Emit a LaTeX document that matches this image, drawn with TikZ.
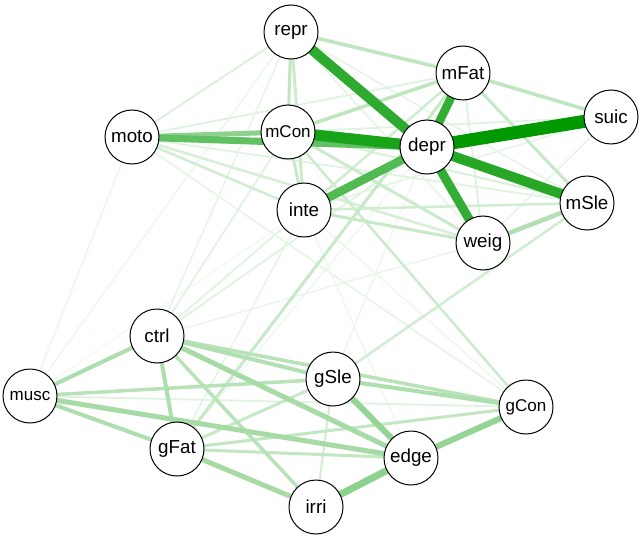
\documentclass[tikz,border=0pt]{standalone}
\usepackage{fontspec}
\setmainfont{Liberation Sans}
\definecolor{gq}{RGB}{0,153,0}
\pgfdeclarelayer{back}
\pgfdeclarelayer{bg}
\pgfsetlayers{back,bg,main}
\newcommand\gqedge[4]{\draw[line width=#3pt,draw=gq!#4!white] (#1.center) -- (#2.center);}
\begin{document}
\begin{tikzpicture}[x=1pt,y=-1pt,
  vnode/.style={circle,draw=black,line width=1pt,fill=white,minimum size=54pt,inner sep=0pt,font=\fontsize{18.8}{19}\selectfont},
  snode/.style={vnode,font=\fontsize{17}{17}\selectfont}]
\begin{pgfonlayer}{back}
\fill[white] (0,0) rectangle (644,540);
\end{pgfonlayer}
\useasboundingbox (0,0) rectangle (644,540);
\node[vnode] (repr) at (291,32) {repr};
\node[vnode] (mFat) at (463,73) {mFat};
\node[vnode] (suic) at (611,117) {suic};
\node[vnode] (moto) at (132,137) {moto};
\node[snode] (mCon) at (288,132) {mCon};
\node[vnode] (depr) at (427,147) {depr};
\node[vnode] (inte) at (304,210) {inte};
\node[vnode] (mSle) at (587,203) {mSle};
\node[vnode] (weig) at (483,243) {weig};
\node[vnode] (ctrl) at (157,336) {ctrl};
\node[snode] (musc) at (30,396) {musc};
\node[vnode] (gSle) at (333,379) {gSle};
\node[snode] (gCon) at (526,407) {gCon};
\node[vnode] (gFat) at (177,449) {gFat};
\node[vnode] (edge) at (411,458) {edge};
\node[vnode] (irri) at (316,507) {irri};
\begin{pgfonlayer}{bg}
\gqedge{musc}{moto}{1.5}{7}
\gqedge{musc}{repr}{1.5}{7}
\gqedge{musc}{inte}{1.2}{6}
\gqedge{ctrl}{repr}{1.5}{10}
\gqedge{ctrl}{mCon}{1.8}{12}
\gqedge{ctrl}{inte}{1.8}{12}
\gqedge{ctrl}{depr}{1.8}{12}
\gqedge{ctrl}{mFat}{1.5}{10}
\gqedge{ctrl}{weig}{1.5}{8}
\gqedge{gCon}{moto}{1.5}{10}
\gqedge{gCon}{inte}{1.2}{8}
\gqedge{gFat}{inte}{1.5}{10}
\gqedge{gFat}{depr}{1.2}{8}
\gqedge{edge}{inte}{1.2}{8}
\gqedge{gSle}{depr}{1.2}{8}
\gqedge{repr}{weig}{1.5}{10}
\gqedge{repr}{mSle}{1.5}{10}
\gqedge{suic}{weig}{1.5}{10}
\gqedge{suic}{inte}{1.5}{10}
\gqedge{suic}{mCon}{1.8}{12}
\gqedge{moto}{mSle}{1.8}{12}
\gqedge{mFat}{weig}{2}{12}
\gqedge{mFat}{moto}{1.8}{12}
\gqedge{musc}{gCon}{1.8}{12}
\gqedge{repr}{moto}{2}{14}
\gqedge{mSle}{mCon}{2}{15}
\gqedge{moto}{weig}{2.5}{16}
\gqedge{gSle}{mSle}{2.5}{18}
\gqedge{irri}{gSle}{2}{18}
\gqedge{gCon}{mCon}{2.5}{20}
\gqedge{mFat}{inte}{2.5}{18}
\gqedge{mSle}{inte}{2.5}{18}
\gqedge{moto}{inte}{2.5}{18}
\gqedge{repr}{inte}{3}{20}
\gqedge{weig}{mCon}{3}{20}
\gqedge{gFat}{mFat}{3}{22}
\gqedge{mFat}{mSle}{3}{22}
\gqedge{weig}{inte}{3}{22}
\gqedge{inte}{mCon}{3}{22}
\gqedge{gFat}{gSle}{3}{22}
\gqedge{gFat}{gCon}{3}{24}
\gqedge{gFat}{edge}{3}{24}
\gqedge{repr}{mCon}{3}{25}
\gqedge{repr}{mFat}{3.5}{25}
\gqedge{mFat}{suic}{3.5}{25}
\gqedge{mFat}{mCon}{3.5}{25}
\gqedge{ctrl}{irri}{3.5}{28}
\gqedge{musc}{gSle}{3.5}{28}
\gqedge{ctrl}{gCon}{3.5}{28}
\gqedge{ctrl}{gSle}{4}{30}
\gqedge{gSle}{gCon}{4}{32}
\gqedge{mSle}{weig}{4.5}{30}
\gqedge{ctrl}{musc}{4}{32}
\gqedge{musc}{gFat}{4}{32}
\gqedge{ctrl}{gFat}{4}{32}
\gqedge{ctrl}{edge}{5}{35}
\gqedge{musc}{edge}{5}{35}
\gqedge{gFat}{irri}{5}{35}
\gqedge{moto}{mCon}{5}{45}
\gqedge{gSle}{edge}{6}{42}
\gqedge{edge}{gCon}{6}{42}
\gqedge{edge}{irri}{7}{45}
\gqedge{moto}{depr}{7}{62}
\gqedge{depr}{inte}{8.5}{68}
\gqedge{depr}{mFat}{8.5}{80}
\gqedge{depr}{weig}{9}{80}
\gqedge{depr}{repr}{10}{82}
\gqedge{depr}{mSle}{10}{85}
\gqedge{depr}{mCon}{11}{90}
\gqedge{depr}{suic}{13}{100}
\end{pgfonlayer}
\end{tikzpicture}
\end{document}
